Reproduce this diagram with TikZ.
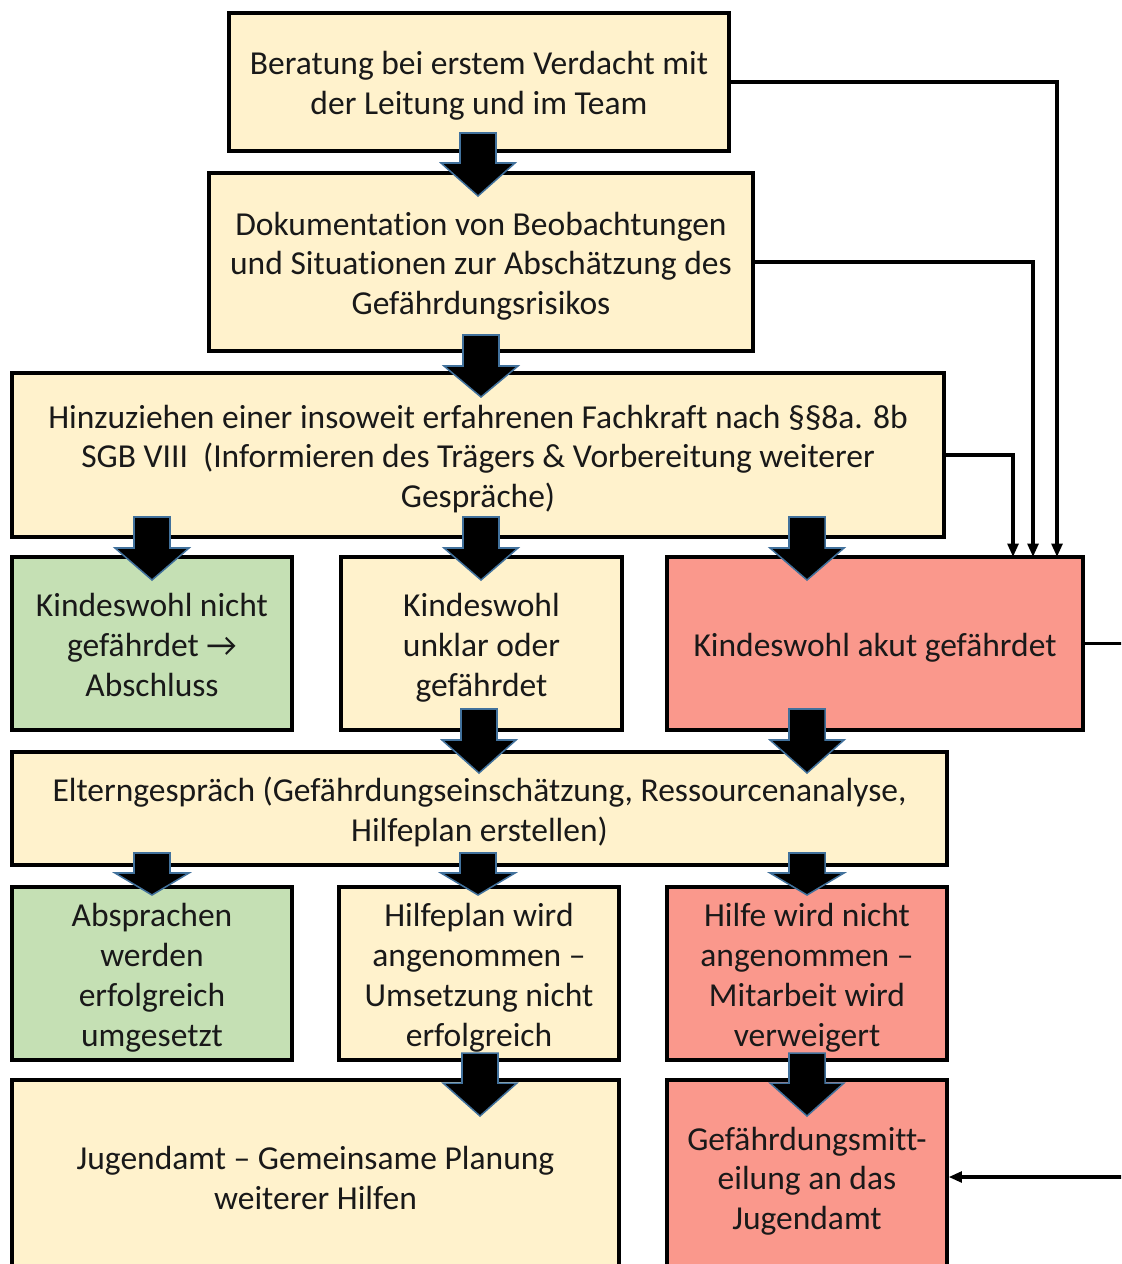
\documentclass[tikz,border=0pt]{standalone}
\usepackage{fontspec}
\setmainfont{Carlito}[Ligatures=CommonOff]
\usetikzlibrary{arrows.meta}
\definecolor{cream}{HTML}{FFF2CC}
\definecolor{leaf}{HTML}{C5E0B4}
\definecolor{salmon}{RGB}{250,152,140}
\definecolor{arrowedge}{HTML}{41719C}
\newcommand{\uu}{0.03cm}
\newcommand{\tstrut}{\rule{0pt}{29pt}}
\newcommand{\blockarrow}[4]{%
  \fill[black] (#1-18,#2) -- (#1+18,#2) -- (#1+18,#3) -- (#1+37,#3) -- (#1,#4) -- (#1-37,#3) -- (#1-18,#3) -- cycle;
  \draw[arrowedge, line width=1.3pt, line join=miter] (#1-18,#2) -- (#1+18,#2) -- (#1+18,#3) -- (#1+37,#3) -- (#1,#4) -- (#1-37,#3) -- (#1-18,#3) -- cycle;}
\begin{document}
\begin{tikzpicture}[x=0.03cm, y=-0.03cm,
  box/.style={draw=black, line width=2.7pt, align=center, inner sep=0pt,
    font=\fontsize{28.6}{34}\selectfont, text=black!90,
    execute at end node={\rule[-7pt]{0pt}{0pt}}},
  cbox/.style={box, fill=cream},
  gbox/.style={box, fill=leaf},
  rbox/.style={box, fill=salmon},
  link/.style={draw=black, line width=3.2pt, -{Triangle[length=0.4cm, width=0.32cm]}}]
\useasboundingbox (0,0) rectangle (1121,1264);
\clip (0,0) rectangle (1121,1264);
\fill[white] (0,0) rectangle (1121,1264);

\node[cbox, minimum width=500*\uu, minimum height=138*\uu] (b1) at (479,82)
  {\tstrut Beratung bei erstem Verdacht mit\\der Leitung und im Team};
\node[cbox, minimum width=544*\uu, minimum height=178*\uu] (b2) at (481,262)
  {\tstrut Dokumentation von Beobachtungen\\und Situationen zur Abschätzung des\\Gefährdungsrisikos};
\node[cbox, minimum width=932*\uu, minimum height=164*\uu] (b3) at (478,455)
  {\tstrut Hinzuziehen einer insoweit erfahrenen Fachkraft nach §§8a. 8b\\SGB VIII\ \ (Informieren des Trägers \& Vorbereitung weiterer\\Gespräche)};
\node[gbox, minimum width=280*\uu, minimum height=173*\uu] (b4) at (152,643.5)
  {\tstrut Kindeswohl nicht\\gefährdet →\\Abschluss};
\node[cbox, minimum width=281*\uu, minimum height=173*\uu] (b5) at (481.5,643.5)
  {\tstrut Kindeswohl\\unklar oder\\gefährdet};
\node[rbox, minimum width=416*\uu, minimum height=173*\uu] (b6) at (875,643.5)
  {\tstrut Kindeswohl akut gefährdet};
\node[cbox, minimum width=935*\uu, minimum height=113*\uu] (b7) at (479.5,808.5)
  {\tstrut Elterngespräch (Gefährdungseinschätzung, Ressourcenanalyse,\\Hilfeplan erstellen)};
\node[gbox, minimum width=280*\uu, minimum height=173*\uu] (b8) at (152,973.5)
  {\tstrut Absprachen\\werden\\erfolgreich\\umgesetzt};
\node[cbox, minimum width=280*\uu, minimum height=173*\uu] (b9) at (479,973.5)
  {\tstrut Hilfeplan wird\\angenommen --\\Umsetzung nicht\\erfolgreich};
\node[rbox, minimum width=280*\uu, minimum height=173*\uu] (b10) at (807,973.5)
  {\tstrut Hilfe wird nicht\\angenommen --\\Mitarbeit wird\\verweigert};
\node[cbox, minimum width=607*\uu, minimum height=194*\uu] (b11) at (315.5,1177)
  {\tstrut Jugendamt -- Gemeinsame Planung\\weiterer Hilfen};
\node[rbox, minimum width=280*\uu, minimum height=194*\uu] (b12) at (807,1177)
  {\tstrut Gefährdungsmitt-\\eilung an das\\Jugendamt};

% thin connectors
\coordinate (t1) at (1057,557);
\coordinate (t2) at (1033,557);
\coordinate (t3) at (1013,557);
\coordinate (edge) at (1140,645);
\draw[link] (b1.east) -| (t1);
\draw[link] (b2.east) -| (t2);
\draw[link] (b3.east) -| (t3);
\draw[link] (b6.east) -- (b6.east -| edge) |- (b12.east);

% block arrows
\blockarrow{478}{133}{163}{196}
\blockarrow{481}{335}{366}{397}
\blockarrow{152}{517}{548}{580}
\blockarrow{481}{517}{548}{580}
\blockarrow{807}{517}{548}{580}
\blockarrow{479}{709}{740}{773}
\blockarrow{807}{709}{740}{773}
\blockarrow{152}{853}{873}{895}
\blockarrow{478}{853}{873}{895}
\blockarrow{807}{853}{873}{895}
\blockarrow{480}{1053}{1083}{1116}
\blockarrow{807}{1053}{1083}{1116}
\end{tikzpicture}
\end{document}
